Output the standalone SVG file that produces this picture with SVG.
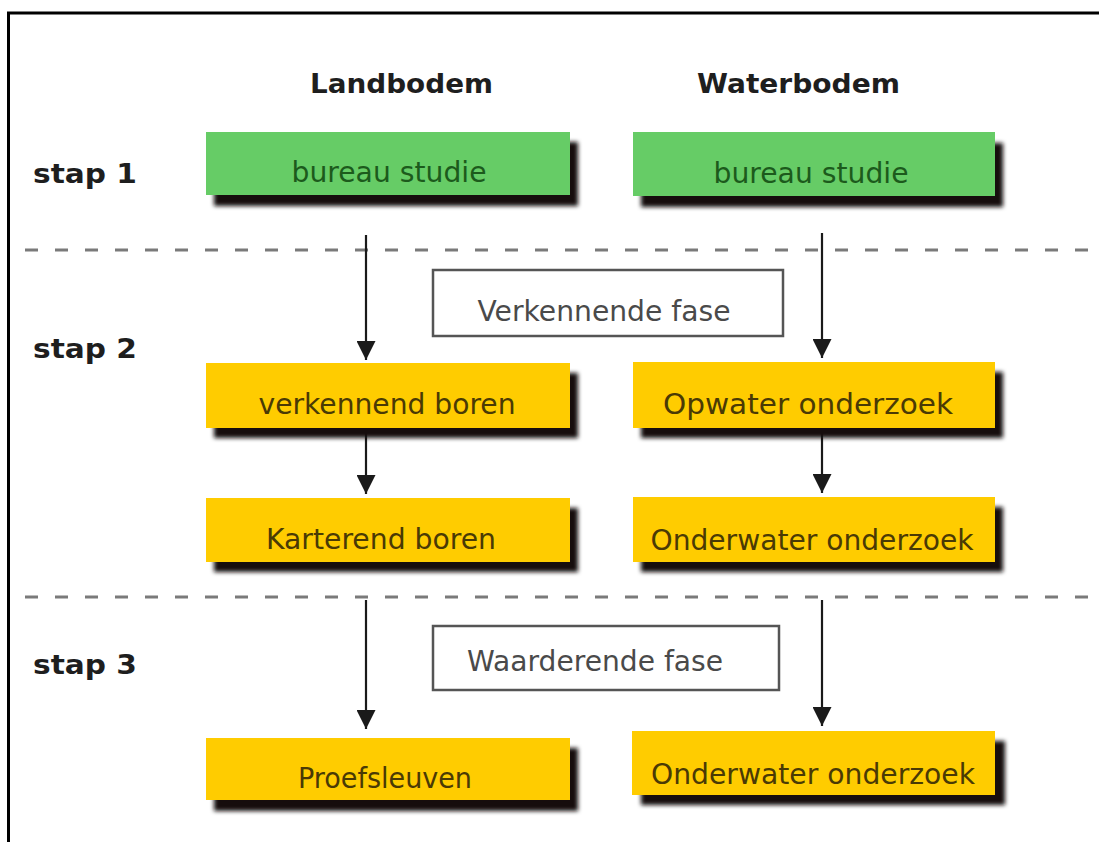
<svg xmlns="http://www.w3.org/2000/svg" width="1099" height="842" viewBox="0 0 1099 842">
  <defs>
    <filter id="blur" x="-10%" y="-30%" width="120%" height="160%">
      <feGaussianBlur stdDeviation="2"/>
    </filter>
    <marker id="arrow" viewBox="0 0 20 20" refX="20" refY="10" markerWidth="19" markerHeight="19" orient="auto" markerUnits="userSpaceOnUse">
      <path d="M0,0 L20,10 L0,20 z" fill="#1a1a1a"/>
    </marker>
  </defs>
  <style>
    .head { font-family: "DejaVu Sans", Verdana, sans-serif; font-weight: bold; font-size: 27px; fill: #1e1e1e; }
    .lbl { font-family: "DejaVu Sans", Verdana, sans-serif; font-size: 29px; text-anchor: middle; }
    .green { fill: #66cc66; }
    .yellow { fill: #ffcc00; }
    .shadow { fill: #151008; filter: url(#blur); }
    .gtxt { fill: #1c5a1c; }
    .ytxt { fill: #4a3a05; }
    .fase { fill: #ffffff; stroke: #555555; stroke-width: 2.5; }
    .ftxt { fill: #4a4a4a; }
    .dash { stroke: #7a7a7a; stroke-width: 3; stroke-dasharray: 13 17; fill: none; }
    .conn { stroke: #1a1a1a; stroke-width: 2.2; fill: none; marker-end: url(#arrow); }
  </style>
  <rect x="0" y="0" width="1099" height="842" fill="#ffffff"/>
  <!-- frame -->
  <path d="M8.5,842 L8.5,13 L1099,13" fill="none" stroke="#000" stroke-width="3"/>

  <!-- headings -->
  <g id="headings">
    <text class="head" x="310" y="93" textLength="183" lengthAdjust="spacingAndGlyphs">Landbodem</text>
    <text class="head" x="697" y="93" textLength="203" lengthAdjust="spacingAndGlyphs">Waterbodem</text>
    <text class="head" x="33" y="183" textLength="104" lengthAdjust="spacingAndGlyphs">stap 1</text>
    <text class="head" x="33" y="358" textLength="104" lengthAdjust="spacingAndGlyphs">stap 2</text>
    <text class="head" x="33" y="674" textLength="104" lengthAdjust="spacingAndGlyphs">stap 3</text>
  </g>

  <!-- dashed separators -->
  <g id="separators">
    <line class="dash" x1="25" y1="250" x2="1099" y2="250"/>
    <line class="dash" x1="25" y1="597" x2="1099" y2="597"/>
  </g>

  <!-- connectors -->
  <g id="connectors">
    <line class="conn" x1="366" y1="235" x2="366" y2="360"/>
    <line class="conn" x1="822" y1="233" x2="822" y2="358"/>
    <line class="conn" x1="366" y1="428" x2="366" y2="494"/>
    <line class="conn" x1="822" y1="428" x2="822" y2="493"/>
    <line class="conn" x1="366" y1="600" x2="366" y2="729"/>
    <line class="conn" x1="822" y1="600" x2="822" y2="726"/>
  </g>

  <g id="land-bureau">
    <rect class="shadow" x="214" y="142" width="364" height="64"/>
    <rect class="green" x="206" y="132" width="364" height="63"/>
    <text class="lbl gtxt" x="389" y="182" textLength="195" lengthAdjust="spacingAndGlyphs">bureau studie</text>
  </g>
  <g id="water-bureau">
    <rect class="shadow" x="641" y="143" width="362" height="64"/>
    <rect class="green" x="633" y="132" width="362" height="64"/>
    <text class="lbl gtxt" x="811" y="183" textLength="195" lengthAdjust="spacingAndGlyphs">bureau studie</text>
  </g>

  <g id="verkennende-fase">
    <rect class="fase" x="433" y="270" width="350" height="66"/>
    <text class="lbl ftxt" x="604" y="321" textLength="253" lengthAdjust="spacingAndGlyphs">Verkennende fase</text>
  </g>

  <g id="verkennend-boren">
    <rect class="shadow" x="214" y="373" width="364" height="65"/>
    <rect class="yellow" x="206" y="363" width="364" height="65"/>
    <text class="lbl ytxt" x="387" y="414" textLength="257" lengthAdjust="spacingAndGlyphs">verkennend boren</text>
  </g>
  <g id="opwater-onderzoek">
    <rect class="shadow" x="641" y="372" width="362" height="66"/>
    <rect class="yellow" x="633" y="362" width="362" height="66"/>
    <text class="lbl ytxt" x="808" y="414" textLength="290" lengthAdjust="spacingAndGlyphs">Opwater onderzoek</text>
  </g>
  <g id="karterend-boren">
    <rect class="shadow" x="214" y="508" width="364" height="64"/>
    <rect class="yellow" x="206" y="498" width="364" height="64"/>
    <text class="lbl ytxt" x="381" y="549" textLength="230" lengthAdjust="spacingAndGlyphs">Karterend boren</text>
  </g>
  <g id="onderwater-onderzoek-1">
    <rect class="shadow" x="641" y="507" width="362" height="65"/>
    <rect class="yellow" x="633" y="497" width="362" height="65"/>
    <text class="lbl ytxt" x="812" y="550" textLength="323" lengthAdjust="spacingAndGlyphs">Onderwater onderzoek</text>
  </g>

  <g id="waarderende-fase">
    <rect class="fase" x="433" y="626" width="346" height="64"/>
    <text class="lbl ftxt" x="595" y="671" textLength="256" lengthAdjust="spacingAndGlyphs">Waarderende fase</text>
  </g>

  <g id="proefsleuven">
    <rect class="shadow" x="214" y="748" width="364" height="63"/>
    <rect class="yellow" x="206" y="738" width="364" height="62"/>
    <text class="lbl ytxt" x="385" y="788" textLength="174" lengthAdjust="spacingAndGlyphs">Proefsleuven</text>
  </g>
  <g id="onderwater-onderzoek-2">
    <rect class="shadow" x="641" y="741" width="364" height="64"/>
    <rect class="yellow" x="632" y="731" width="363" height="64"/>
    <text class="lbl ytxt" x="813" y="784" textLength="324" lengthAdjust="spacingAndGlyphs">Onderwater onderzoek</text>
  </g>
</svg>
